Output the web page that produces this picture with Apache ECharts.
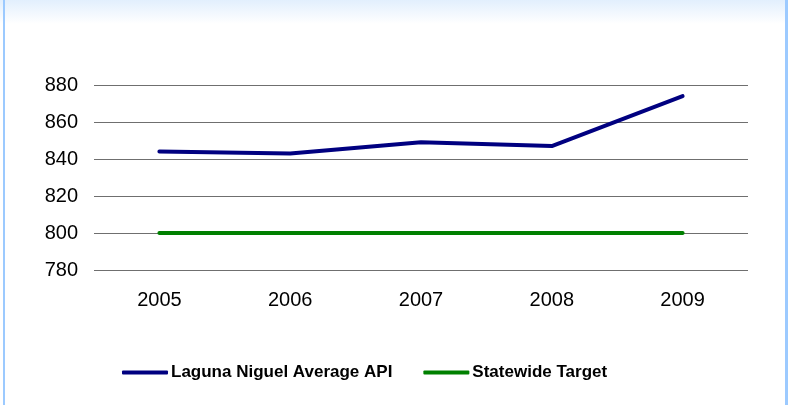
<!DOCTYPE html>
<html>
<head>
<meta charset="utf-8">
<script src="https://cdn.jsdelivr.net/npm/echarts@6/dist/echarts.min.js"></script>
<style>
  html, body { margin: 0; padding: 0; background: #fff; }
  #chart { width: 788px; height: 405px; }
</style>
</head>
<body>
<div id="chart"></div>
<script>
const years = ['2005', '2006', '2007', '2008', '2009'];
const lagunaApi = [844, 843, 849, 847, 874];
const stateTarget = [800, 800, 800, 800, 800];
const yTicks = { min: 780, max: 880, step: 20 };

const chart = echarts.init(document.getElementById('chart'));
const font = '"Liberation Sans", Arial, sans-serif';

chart.setOption({
  animation: false,
  graphic: [
    {
      type: 'rect', left: 0, top: 0, z: -10,
      shape: { width: 788, height: 24 },
      style: {
        fill: new echarts.graphic.LinearGradient(0, 0, 0, 1, [
          { offset: 0, color: '#e2effd' },
          { offset: 1, color: '#ffffff' }
        ])
      }
    },
    { type: 'rect', left: 3, top: 0, z: -5, shape: { width: 2, height: 405 }, style: { fill: '#9ccaff' } },
    { type: 'rect', left: 785, top: 0, z: -5, shape: { width: 3, height: 405 }, style: { fill: '#9ccaff' } }
  ],
  grid: { left: 94, right: 40, top: 85, bottom: 135 },
  legend: {
    left: 117, top: 359,
    icon: 'roundRect',
    itemWidth: 46, itemHeight: 4, itemGap: 31,
    textStyle: { fontFamily: font, fontSize: 17, fontWeight: 'bold', color: '#000', padding: [0, 0, 0, -2] },
    data: ['Laguna Niguel Average API', 'Statewide Target']
  },
  xAxis: {
    type: 'category',
    data: years,
    axisLine: { show: false },
    axisTick: { show: false },
    axisLabel: { fontFamily: font, fontSize: 20, color: '#000', margin: 20 }
  },
  yAxis: {
    type: 'value',
    min: yTicks.min, max: yTicks.max, interval: yTicks.step,
    axisLine: { show: false },
    axisTick: { show: false },
    axisLabel: { fontFamily: font, fontSize: 20, color: '#000', margin: 16 },
    splitLine: { lineStyle: { color: '#6f6f6f', width: 1 } }
  },
  series: [
    {
      name: 'Laguna Niguel Average API',
      type: 'line',
      data: lagunaApi,
      symbol: 'none',
      lineStyle: { color: '#000080', width: 4, cap: 'round' },
      itemStyle: { color: '#000080' }
    },
    {
      name: 'Statewide Target',
      type: 'line',
      data: stateTarget,
      symbol: 'none',
      lineStyle: { color: '#008000', width: 4, cap: 'round' },
      itemStyle: { color: '#008000' }
    }
  ]
});
</script>
</body>
</html>
